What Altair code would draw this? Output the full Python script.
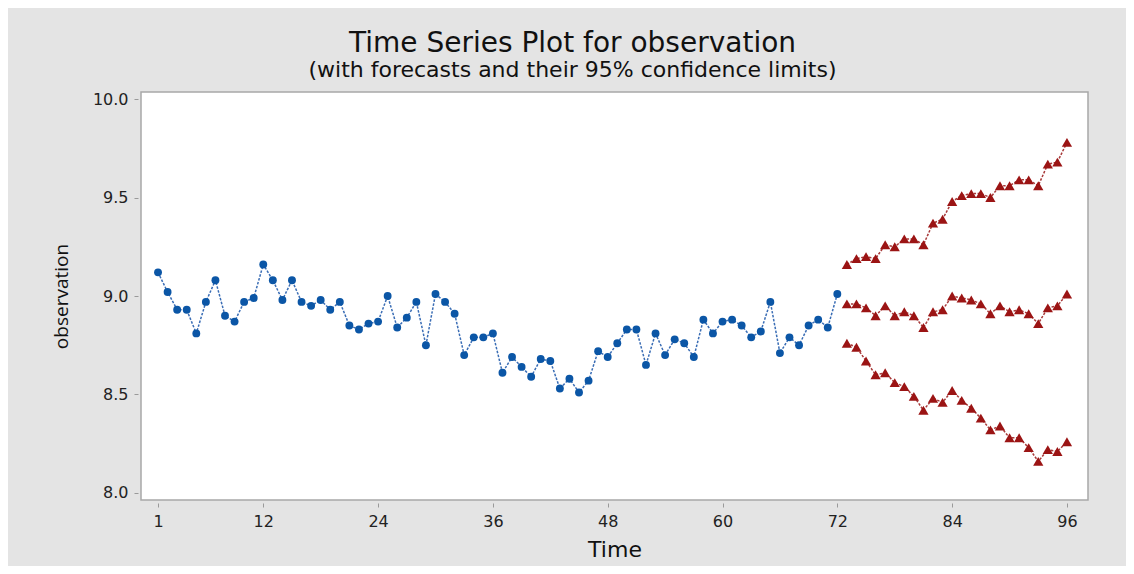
import altair as alt
import pandas as pd

# ---- data ----
obs_time = list(range(1, 73))
observation = [9.12, 9.02, 8.93, 8.93, 8.81, 8.97, 9.08, 8.90, 8.87, 8.97,
               8.99, 9.16, 9.08, 8.98, 9.08, 8.97, 8.95, 8.98, 8.93, 8.97,
               8.85, 8.83, 8.86, 8.87, 9.00, 8.84, 8.89, 8.97, 8.75, 9.01,
               8.97, 8.91, 8.70, 8.79, 8.79, 8.81, 8.61, 8.69, 8.64, 8.59,
               8.68, 8.67, 8.53, 8.58, 8.51, 8.57, 8.72, 8.69, 8.76, 8.83,
               8.83, 8.65, 8.81, 8.70, 8.78, 8.76, 8.69, 8.88, 8.81, 8.87,
               8.88, 8.85, 8.79, 8.82, 8.97, 8.71, 8.79, 8.75, 8.85, 8.88,
               8.84, 9.01]

fc_time = list(range(73, 97))
forecast = [8.96, 8.96, 8.94, 8.90, 8.95, 8.90, 8.92, 8.90, 8.84, 8.92,
            8.93, 9.00, 8.99, 8.98, 8.96, 8.91, 8.95, 8.92, 8.93, 8.91,
            8.86, 8.94, 8.95, 9.01]
upper = [9.16, 9.19, 9.20, 9.19, 9.26, 9.25, 9.29, 9.29, 9.26, 9.37,
         9.39, 9.48, 9.51, 9.52, 9.52, 9.50, 9.56, 9.56, 9.59, 9.59,
         9.56, 9.67, 9.68, 9.78]
lower = [8.76, 8.74, 8.67, 8.60, 8.61, 8.56, 8.54, 8.49, 8.42, 8.48,
         8.46, 8.52, 8.47, 8.43, 8.38, 8.32, 8.34, 8.28, 8.28, 8.23,
         8.16, 8.22, 8.21, 8.26]

x_ticks = [1, 12, 24, 36, 48, 60, 72, 84, 96]
y_ticks = [8.0, 8.5, 9.0, 9.5, 10.0]

obs_df = pd.DataFrame({"Time": obs_time, "observation": observation})
fc_df = pd.concat([
    pd.DataFrame({"Time": fc_time, "observation": upper, "series": "upper"}),
    pd.DataFrame({"Time": fc_time, "observation": forecast, "series": "forecast"}),
    pd.DataFrame({"Time": fc_time, "observation": lower, "series": "lower"}),
])

BLUE = "#0b56a6"
BLUE_LINE = "#3a6db5"
RED = "#9b1414"
RED_LINE = "#a83a3a"

x_enc = alt.X("Time:Q",
              scale=alt.Scale(domain=[-0.78, 98.2], nice=False, zero=False),
              axis=alt.Axis(values=x_ticks, title="Time"))
y_enc = alt.Y("observation:Q",
              scale=alt.Scale(domain=[7.964, 10.036], nice=False, zero=False),
              axis=alt.Axis(values=y_ticks, format=".1f", title="observation"))

obs_line = alt.Chart(obs_df).mark_line(
    color=BLUE_LINE, strokeWidth=1.5, strokeDash=[2.5, 1.5]
).encode(x=x_enc, y=y_enc)
obs_pts = alt.Chart(obs_df).mark_point(
    shape="circle", filled=True, color=BLUE, size=62, opacity=1
).encode(x=x_enc, y=y_enc)

fc_line = alt.Chart(fc_df).mark_line(
    color=RED_LINE, strokeWidth=1.5, strokeDash=[2.5, 1.5]
).encode(x=x_enc, y=y_enc, detail="series:N")
fc_pts = alt.Chart(fc_df).mark_point(
    shape="triangle-up", filled=True, color=RED, size=105, opacity=1
).encode(x=x_enc, y=y_enc, detail="series:N")

chart = alt.layer(obs_line, obs_pts, fc_line, fc_pts).properties(
    width=947,
    height=408,
    title=alt.TitleParams(
        text="Time Series Plot for observation",
        subtitle="(with forecasts and their 95% confidence limits)",
        anchor="middle",
        frame="group",
        dx=-42,
        offset=10,
        font="DejaVu Sans",
        fontSize=28,
        fontWeight="normal",
        color="#111111",
        subtitleFont="DejaVu Sans",
        subtitleFontSize=22,
        subtitleColor="#111111",
        subtitlePadding=2,
    ),
    background="#e4e4e4",
    autosize=alt.AutoSizeParams(type="none"),
    padding={"left": 133, "top": 84, "right": 38, "bottom": 66},
).configure_view(
    fill="white", stroke="#a8a8a8", strokeWidth=1.5
).configure_axis(
    grid=False,
    domain=False,
    offset=3,
    tickSize=4,
    tickColor="#9a9a9a",
    tickWidth=1,
    labelFont="DejaVu Sans",
    labelFontSize=16,
    labelColor="#222222",
    titleFont="DejaVu Sans",
    titleFontWeight="normal",
    titleColor="#111111",
    titleFontSize=22,
).configure_axisX(
    labelPadding=6,
    titlePadding=10,
).configure_axisY(
    labelPadding=6,
    titlePadding=21,
    titleFont="Open Sans",
    titleFontSize=19,
)

chart.save("out.html", embed_options={"renderer": "svg", "actions": False})
